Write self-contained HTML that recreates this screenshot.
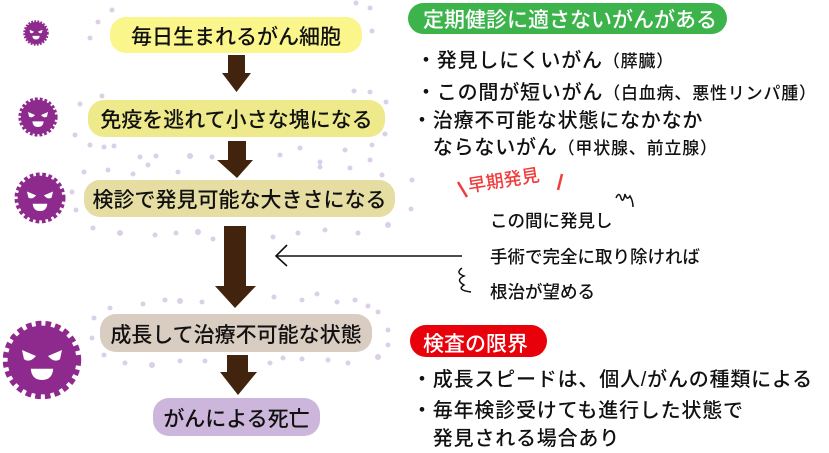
<!DOCTYPE html>
<html><head><meta charset="utf-8"><style>
body{margin:0;width:829px;height:445px;background:#fff;overflow:hidden;position:relative;font-family:"Liberation Sans","Noto Sans CJK JP",sans-serif;}
.t{position:absolute;white-space:nowrap;color:#111;font-weight:500;}
.b{letter-spacing:0.8px}
</style></head><body>
<svg width="829" height="445" style="position:absolute;left:0;top:0">
<defs>
<g id="v">
<circle r="0.86" fill="#8e2a8e"/>
<circle r="0.9" fill="none" stroke="#8e2a8e" stroke-width="0.16" stroke-dasharray="0.14 0.1"/>
<path d="M-0.5,-0.25 L-0.15,-0.1 Q-0.3,0.08 -0.45,-0.02 Z" fill="#fff"/>
<path d="M0.5,-0.25 L0.15,-0.1 Q0.3,0.08 0.45,-0.02 Z" fill="#fff"/>
<path d="M-0.28,0.22 L0.28,0.22 Q0.26,0.5 0,0.5 Q-0.26,0.5 -0.28,0.22 Z" fill="#fff"/>
</g>
</defs>
<g fill="#dccfe8">
<circle cx="112" cy="10" r="2.5"/><circle cx="98" cy="22" r="2.5"/><circle cx="90" cy="38" r="2.5"/><circle cx="356" cy="3" r="2.5"/><circle cx="370" cy="8" r="2.5"/><circle cx="372" cy="31" r="2.5"/>
<circle cx="102" cy="96" r="2.5"/><circle cx="80" cy="104" r="2.5"/><circle cx="75" cy="135" r="2.5"/><circle cx="90" cy="145" r="2.5"/><circle cx="104" cy="147" r="2.5"/><circle cx="114" cy="146" r="2.5"/><circle cx="140" cy="157" r="2.5"/><circle cx="156" cy="156" r="2.5"/><circle cx="148" cy="165" r="2.5"/><circle cx="190" cy="156" r="3"/><circle cx="212" cy="157" r="2.5"/><circle cx="280" cy="155" r="2.5"/><circle cx="300" cy="148" r="2.5"/><circle cx="320" cy="162" r="2.5"/><circle cx="345" cy="150" r="2.5"/><circle cx="372" cy="145" r="2.5"/><circle cx="385" cy="134" r="2.5"/><circle cx="354" cy="91" r="2.5"/><circle cx="370" cy="92" r="2.5"/><circle cx="386" cy="102" r="2.5"/><circle cx="350" cy="168" r="2.5"/><circle cx="370" cy="160" r="2.5"/><circle cx="84" cy="172" r="2.5"/><circle cx="108" cy="170" r="2.5"/><circle cx="133" cy="174" r="2.5"/><circle cx="178" cy="172" r="2.5"/><circle cx="320" cy="167" r="2.5"/><circle cx="382" cy="175" r="2.5"/><circle cx="72" cy="192" r="2.5"/><circle cx="76" cy="210" r="2.5"/>
<circle cx="93" cy="228" r="2.5"/><circle cx="120" cy="233" r="3"/><circle cx="155" cy="235" r="2.5"/><circle cx="176" cy="233" r="2.5"/><circle cx="198" cy="232" r="3"/><circle cx="213" cy="239" r="2.5"/><circle cx="273" cy="237" r="2.5"/><circle cx="298" cy="233" r="2.5"/><circle cx="325" cy="230" r="2.5"/><circle cx="358" cy="233" r="2.5"/><circle cx="388" cy="225" r="3"/><circle cx="412" cy="180" r="2.5"/><circle cx="411" cy="209" r="2.5"/>
<circle cx="110" cy="308" r="2.5"/><circle cx="143" cy="304" r="2.5"/><circle cx="165" cy="300" r="2.5"/><circle cx="180" cy="301" r="3"/><circle cx="202" cy="302" r="2.5"/><circle cx="274" cy="297" r="2.5"/><circle cx="302" cy="300" r="2.5"/><circle cx="317" cy="294" r="2.5"/><circle cx="337" cy="302" r="2.5"/><circle cx="355" cy="300" r="2.5"/><circle cx="368" cy="306" r="2.5"/><circle cx="378" cy="312" r="2.5"/><circle cx="94" cy="318" r="2.5"/><circle cx="388" cy="330" r="2.5"/><circle cx="388" cy="345" r="2.5"/><circle cx="92" cy="338" r="2.5"/><circle cx="104" cy="355" r="2.5"/><circle cx="125" cy="363" r="2.5"/><circle cx="152" cy="365" r="3"/><circle cx="180" cy="361" r="2.5"/><circle cx="205" cy="361" r="2.5"/><circle cx="270" cy="363" r="2.5"/><circle cx="283" cy="358" r="2.5"/><circle cx="302" cy="359" r="2.5"/><circle cx="328" cy="360" r="2.5"/><circle cx="348" cy="363" r="2.5"/><circle cx="378" cy="357" r="3"/>
</g>
<rect x="110" y="17" width="252" height="36" rx="16" fill="#fbf68c"/>
<rect x="88" y="100" width="297" height="37" rx="16" fill="#eeea8c"/>
<rect x="84" y="180" width="311" height="37" rx="16" fill="#e6dda2"/>
<rect x="100" y="314" width="272" height="38" rx="16" fill="#d9ccc0"/>
<rect x="153" y="398" width="167" height="38" rx="16" fill="#cdb6dc"/>
<g fill="#42230d">
<path d="M228,55 H245 V73 H251 L236.5,92 L222,73 H228 Z"/>
<path d="M228,141 H246 V160 H253 L237,178 L217,160 H228 Z"/>
<path d="M224,226 H246 V286 H256 L235,308 L215,286 H224 Z"/>
<path d="M227,355 H248 V372 H257 L238,395 L220,372 H227 Z"/>
</g>
<path d="M462,256 H276 M287,245 L276,256 L287,266" fill="none" stroke="#111" stroke-width="1.6"/>
<path d="M616,198 q3,-7 5,0 q2,6 4,-4 q2,7 5,2 q3,5 3,11" fill="none" stroke="#111" stroke-width="1.5"/>
<path d="M462,268 q-7,5 2,8 q-9,4 0,9 q-8,5 7,7" fill="none" stroke="#111" stroke-width="1.5"/>
<use href="#v" transform="translate(36,33) scale(13)"/>
<use href="#v" transform="translate(38,117) scale(20)"/>
<use href="#v" transform="translate(40,198) scale(26)"/>
<use href="#v" transform="translate(42,360) scale(40)"/>
<rect x="408" y="3" width="319" height="31" rx="15.5" fill="#3cb44b"/>
<rect x="410" y="325" width="137" height="32" rx="16" fill="#e8000b"/>
<path d="M458,182 L467,197 M562,174 L558,190" stroke="#f03c3c" stroke-width="2.5"/>
</svg>
<div class="t" style="left:110px;top:21px;width:252px;text-align:center;font-size:21px">毎日生まれるがん細胞</div>
<div class="t" style="left:88px;top:104px;width:297px;text-align:center;font-size:21px">免疫を逃れて小さな塊になる</div>
<div class="t" style="left:84px;top:184px;width:311px;text-align:center;font-size:21px">検診で発見可能な大きさになる</div>
<div class="t" style="left:100px;top:319px;width:272px;text-align:center;font-size:21px">成長して治療不可能な状態</div>
<div class="t" style="left:153px;top:403px;width:167px;text-align:center;font-size:21px">がんによる死亡</div>
<div class="t" style="left:423px;top:4px;font-size:21px;color:#fff">定期健診に適さないがんがある</div>
<div class="t b" style="left:416px;top:44px;font-size:20px">・発見しにくいがん<span style="font-size:17px">（膵臓）</span></div>
<div class="t b" style="left:416px;top:76px;font-size:20px">・この間が短いがん<span style="font-size:17px">（白血病、悪性リンパ腫）</span></div>
<div class="t b" style="left:412px;top:108px;font-size:20px;line-height:27px">・治療不可能な状態になかなか<br>　ならないがん<span style="font-size:17px">（甲状腺、前立腺）</span></div>
<div class="t" style="left:470px;top:172px;font-size:18px;color:#f03c3c;transform:rotate(-9deg);transform-origin:left bottom">早期発見</div>
<div class="t" style="left:490px;top:208px;font-size:17.5px">この間に発見し</div>
<div class="t" style="left:490px;top:244px;font-size:17.5px">手術で完全に取り除ければ</div>
<div class="t" style="left:490px;top:279px;font-size:17.5px">根治が望める</div>
<div class="t" style="left:423px;top:328px;font-size:21px;color:#fff">検査の限界</div>
<div class="t b" style="left:412px;top:363px;font-size:20px">・成長スピードは、個人/がんの種類による</div>
<div class="t b" style="left:412px;top:397px;font-size:20px;line-height:28px">・毎年検診受けても進行した状態で<br>　発見される場合あり</div>
</body></html>
